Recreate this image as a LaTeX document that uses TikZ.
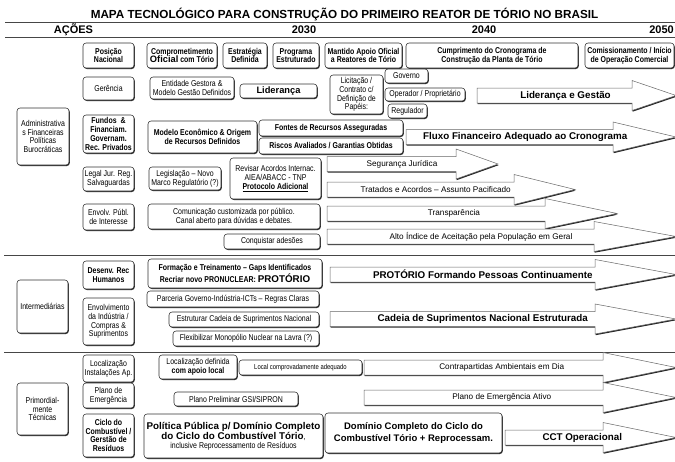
\documentclass[tikz,border=0pt]{standalone}
\usepackage{fontspec}
\setmainfont{Liberation Sans}
\newfontfamily\narrowfont[FakeStretch=0.82,Ligatures=TeX]{Liberation Sans}
\usepackage{xcolor}
\definecolor{mapedge}{RGB}{50,50,50}
\definecolor{mapline}{RGB}{70,70,70}
\definecolor{mapshadow}{RGB}{40,40,40}
\usetikzlibrary{shadows}

% block arrow: [label opts]{name}{x start}{x head}{x tip}{y centre}{label}
\newcommand{\blockarrow}[7][]{%
  \draw[bigarrow] (#3,#6-7.5) -- (#4,#6-7.5) -- (#4,#6-15) -- (#5,#6)
    -- (#4,#6+15) -- (#4,#6+7.5) -- (#3,#6+7.5) -- cycle;
  \node[arrowtext,#1] (#2) at ({(2*#3+#4+#5)/4},#6) {#7};
}

\begin{document}
\begin{tikzpicture}[
  x=1pt, y=-1pt,
  every node/.style={inner sep=1pt},
  box/.style={draw=mapedge,fill=white,rounded corners=3pt,line width=0.55pt,
              align=center,font=\narrowfont\fontsize{8.5}{8.7}\selectfont,
              drop shadow={shadow xshift=0.8pt,shadow yshift=-1pt,
                           fill=mapshadow,opacity=1}},
  boldbox/.style={box,font=\narrowfont\bfseries\fontsize{8.5}{8.7}\selectfont},
  widebox/.style={box,font=\bfseries\fontsize{9.3}{10.8}\selectfont},
  wh/.style 2 args={minimum width=#1,minimum height=#2},
  bigarrow/.style={draw=black!60,fill=white,line width=0.5pt,
                   drop shadow={shadow xshift=0.6pt,shadow yshift=-1.2pt,
                                fill=mapshadow,opacity=1}},
  arrowtext/.style={font=\fontsize{8.2}{9}\selectfont},
  arrowbold/.style={font=\bfseries\fontsize{9.8}{10}\selectfont},
  rule/.style={mapline,line width=0.9pt},
]
  \useasboundingbox (0,0) rectangle (675,461);

  % Heading
  \node[font=\bfseries\fontsize{11.7}{12}\selectfont] (title) at (344.5,15)
    {MAPA TECNOLÓGICO PARA CONSTRUÇÃO DO PRIMEIRO REATOR DE TÓRIO NO BRASIL};
  \node[font=\bfseries\fontsize{11}{12}\selectfont] (acoes) at (73.5,30) {AÇÕES};
  \node[font=\bfseries\fontsize{11}{12}\selectfont] (y30) at (304,30) {2030};
  \node[font=\bfseries\fontsize{11}{12}\selectfont] (y40) at (484,30) {2040};
  \node[font=\bfseries\fontsize{11}{12}\selectfont,anchor=east] (y50) at (675,30) {2050};
  \draw[rule] (5,22) -- (675,22);
  \draw[rule] (5,37) -- (675,37);
  \draw[rule] (4,255) -- (675,255);
  \draw[rule] (4,352) -- (675,352);

  % Groups
  \node[box,wh={52}{57}] (adm) at (43,136.5)
    {Administrativa\\s Financeiras\\Políticas\\Burocráticas};
  \node[box,wh={51}{53}] (int) at (42.5,306.5) {Intermediárias};
  \node[box,wh={51}{52}] (tec) at (42.5,409) {Primordial-\\mente\\Técnicas};

  % Actions
  \node[boldbox,wh={51}{25}] (pos) at (108.5,55.5) {Posição\\Nacional};
  \node[box,wh={51}{23}] (ger) at (108.5,88.5) {Gerência};
  \node[boldbox,wh={51}{38}] (fun) at (108.5,134)
    {Fundos \ \&\\Financiam.\\Governam.\\Rec. Privados};
  \node[box,wh={51}{24}] (leg) at (108.5,179) {Legal Jur. Reg.\\Salvaguardas};
  \node[box,wh={51}{26}] (env) at (108.5,217) {Envolv. Públ.\\de Interesse};
  \node[boldbox,wh={51}{28}] (rhu) at (108.5,275) {Desenv. Rec\\Humanos};
  \node[box,wh={51}{47}] (ind) at (108.5,321.5)
    {Envolvimento\\da Indústria /\\Compras \&\\Suprimentos};
  \node[box,wh={51}{27}] (loc) at (108.5,368.5) {Localização\\Instalações Ap.};
  \node[box,wh={51}{25}] (pla) at (108.5,395.5) {Plano de\\Emergência};
  \node[boldbox,wh={51}{43}] (cic) at (108.5,435.5)
    {Ciclo do\\Combustível /\\Gerstão de\\Resíduos};

  % Milestones
  \node[boldbox,wh={70}{25}] (com) at (182,55.5)
    {Comprometimento\\{\rmfamily\fontsize{9.3}{9}\selectfont Oficial} com Tório};
  \node[boldbox,wh={44}{25}] (est) at (245,55.5) {Estratégia\\Definida};
  \node[boldbox,wh={46}{25}] (prg) at (296,55.5) {Programa\\Estruturado};
  \node[boldbox,wh={77}{25}] (man) at (363.5,55.5)
    {Mantido Apoio Oficial\\a Reatores de Tório};
  \node[boldbox,wh={172}{25}] (cro) at (492,55.5)
    {Cumprimento do Cronograma de\\Construção da Planta de Tório};
  \node[boldbox,wh={89}{25}] (coi) at (629.5,55.5)
    {Comissionamento / Início\\de Operação Comercial};

  % Gerência
  \node[box,wh={84}{22}] (egm) at (192,88)
    {Entidade Gestora \&\\Modelo Gestão Definidos};
  \node[widebox,wh={77}{14}] (lid) at (278.5,91) {Liderança};
  \node[box,wh={53}{39}] (lic) at (356.5,94.5)
    {Licitação /\\Contrato c/\\Definição de\\Papéis:};
  \node[box,wh={43}{14}] (gov) at (406.5,76) {Governo};
  \node[box,wh={80}{13}] (opr) at (425,94.5) {Operador / Proprietário};
  \node[box,wh={39}{14}] (reg) at (407.5,111) {Regulador};

  % Fundos
  \node[boldbox,wh={109}{32}] (meo) at (202.5,137)
    {Modelo Econômico \& Origem\\de Recursos Definidos};
  \node[boldbox,wh={144}{16}] (fra) at (331,128) {Fontes de Recursos Asseguradas};
  \node[boldbox,wh={144}{16}] (rag) at (331,146)
    {Riscos Avaliados / Garantias Obtidas};

  % Legal
  \node[box,wh={72}{23}] (lnm) at (185,178.5)
    {Legislação – Novo\\Marco Regulatório (?)};
  \node[box,wh={91}{41}] (rai) at (275.5,178.5)
    {Revisar Acordos Internac.\\AIEA/ABACC - TNP\\\underline{\bfseries Protocolo Adicional}};

  % Envolvimento
  \node[box,wh={172}{25}] (cpp) at (234,216.5)
    {Comunicação customizada por público.\\Canal aberto para dúvidas e debates.};
  \node[box,wh={96}{15}] (cad) at (272,241.5) {Conquistar adesões};

  % Intermediárias
  \node[boldbox,wh={174}{29}] (ftr) at (235,273.5)
    {Formação e Treinamento – Gaps Identificados\\Recriar novo PRONUCLEAR:
     {\rmfamily\fontsize{9.8}{9.5}\selectfont PROTÓRIO}};
  \node[box,wh={172}{16}] (pgi) at (233,299)
    {Parceria Governo-Indústria-ICTs – Regras Claras};
  \node[box,wh={150}{15}] (ecs) at (244,319.5)
    {Estruturar Cadeia de Suprimentos Nacional};
  \node[box,wh={146}{15}] (fmn) at (246,338.5)
    {Flexibilizar Monopólio Nuclear na Lavra (?)};

  % Técnicas
  \node[box,wh={78}{24}] (lda) at (198,367)
    {Localização definida\\{\bfseries com apoio local}};
  \node[box,wh={123}{15},font=\narrowfont\fontsize{7.2}{8}\selectfont] (lca)
    at (300.5,367.5) {Local comprovadamente adequado};
  \node[box,wh={124}{14}] (ppg) at (236,399) {Plano Preliminar GSI/SIPRON};
  \node[box,wh={179}{44}] (ppd) at (233.5,436)
    {{\rmfamily\bfseries\fontsize{9.8}{11.5}\selectfont Política Pública p/ Domínio Completo}\\
     {\rmfamily\bfseries\fontsize{9.8}{11.5}\selectfont do Ciclo do Combustível Tório},\\
     inclusive Reprocessamento de Resíduos};
  \node[widebox,wh={177}{40},font=\bfseries\fontsize{9.5}{11.5}\selectfont] (dcc)
    at (413.5,433) {Domínio Completo do Ciclo do\\Combustível Tório + Reprocessam.};

  % Arrows
  \blockarrow[arrowbold]{lgs}{477}{632}{676}{95.5}{Liderança e Gestão}
  \blockarrow[arrowbold]{ffc}{406}{613}{676}{137}{Fluxo Financeiro Adequado ao Cronograma}
  \blockarrow{sjd}{327}{456}{498}{164}{Segurança Jurídica}
  \blockarrow{tap}{327}{514}{575}{189.5}{Tratados e Acordos – Assunto Pacificado}
  \blockarrow{tra}{327}{545}{617}{213.5}{Transparência}
  \blockarrow{aia}{327}{594}{676}{236.5}{Alto Índice de Aceitação pela População em Geral}
  \blockarrow[arrowbold]{pfp}{330}{595}{676}{274.5}{PROTÓRIO Formando Pessoas Continuamente}
  \blockarrow[arrowbold]{csn}{330}{595}{676}{319}{Cadeia de Suprimentos Nacional Estruturada}
  \blockarrow{cad2}{364}{603}{676}{367.5}{Contrapartidas Ambientais em Dia}
  \blockarrow{pea}{364}{603}{676}{397.5}{Plano de Emergência Ativo}
  \blockarrow[arrowbold,xshift=10]{cct}{505}{603}{676}{437.5}{CCT Operacional}
\end{tikzpicture}
\end{document}
